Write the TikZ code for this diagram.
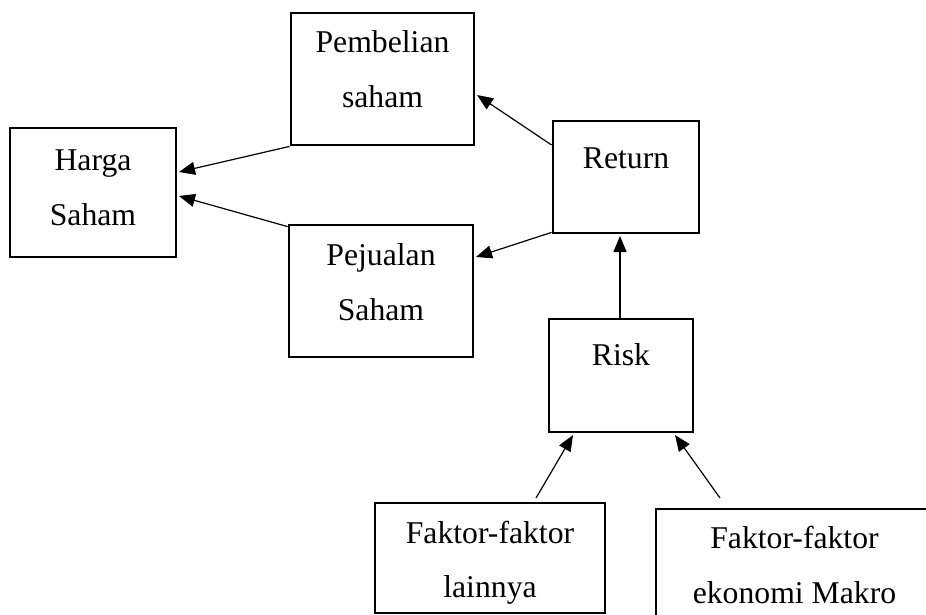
\documentclass[tikz,border=0pt]{standalone}
\usepackage{fontspec}
\setmainfont{Liberation Serif}
\usetikzlibrary{arrows.meta}
\begin{document}
\begin{tikzpicture}[x=1pt,y=-1pt,
  boxst/.style={draw, line width=2.8pt, inner sep=0pt},
  lbl/.style={anchor=base, inner sep=0pt, font=\fontsize{31.7}{38}\selectfont},
  arr/.style={line width=1.2pt, -{Triangle[length=16pt,width=13pt]}}]
\useasboundingbox (0,0) rectangle (926,615);
\clip (0,0) rectangle (926,615);
% boxes
\node[boxst, minimum width=166pt, minimum height=129pt] (harga) at (93,192.5) {};
\node[boxst, minimum width=183pt, minimum height=132pt] (pemb) at (382.5,79) {};
\node[boxst, minimum width=184pt, minimum height=132pt] (pej) at (381,291) {};
\node[boxst, minimum width=146pt, minimum height=112pt] (ret) at (626,177) {};
\node[boxst, minimum width=144pt, minimum height=113pt] (risk) at (621,375.5) {};
\node[boxst, minimum width=230pt, minimum height=110pt] (lain) at (490,558) {};
\node[boxst, minimum width=277pt, minimum height=111pt] (makro) at (794.5,564.5) {};
% texts
\node[lbl] (t-harga1) at (93,170) {Harga};
\node[lbl] (t-harga2) at (93,225) {Saham};
\node[lbl] (t-pemb1) at (382.5,53) {Pembelian};
\node[lbl] (t-pemb2) at (382.5,108) {saham};
\node[lbl] (t-pej1) at (381,265) {Pejualan};
\node[lbl] (t-pej2) at (381,320) {Saham};
\node[lbl] (t-ret) at (626,168) {Return};
\node[lbl] (t-risk) at (621,365) {Risk};
\node[lbl] (t-lain1) at (490,543) {Faktor-faktor};
\node[lbl] (t-lain2) at (490,597) {lainnya};
\node[lbl] (t-mak1) at (794.5,548) {Faktor-faktor};
\node[lbl] (t-mak2) at (794.5,603) {ekonomi Makro};
% free ends
\coordinate (f1) at (536,498);
\coordinate (f2) at (720,498);
% connectors
\draw[arr] (pemb.south west) -- ([xshift=1.6pt,yshift=20.5pt]harga.east);
\draw[arr] ([yshift=-3pt]pej.north west) -- ([xshift=1.6pt,yshift=-3.5pt]harga.east);
\draw[arr] ([yshift=32pt]ret.west) -- ([xshift=1.6pt,yshift=-16pt]pemb.east);
\draw[arr] ([yshift=2pt]ret.south west) -- ([xshift=1.6pt,yshift=34pt]pej.east);
\draw[arr] ([xshift=-1pt]risk.north) -- ([xshift=-6pt,yshift=-1.6pt]ret.south);
\draw[arr] (f1) -- ([xshift=-48pt,yshift=-1.6pt]risk.south);
\draw[arr] (f2) -- ([xshift=54pt,yshift=-1.6pt]risk.south);
\end{tikzpicture}
\end{document}
